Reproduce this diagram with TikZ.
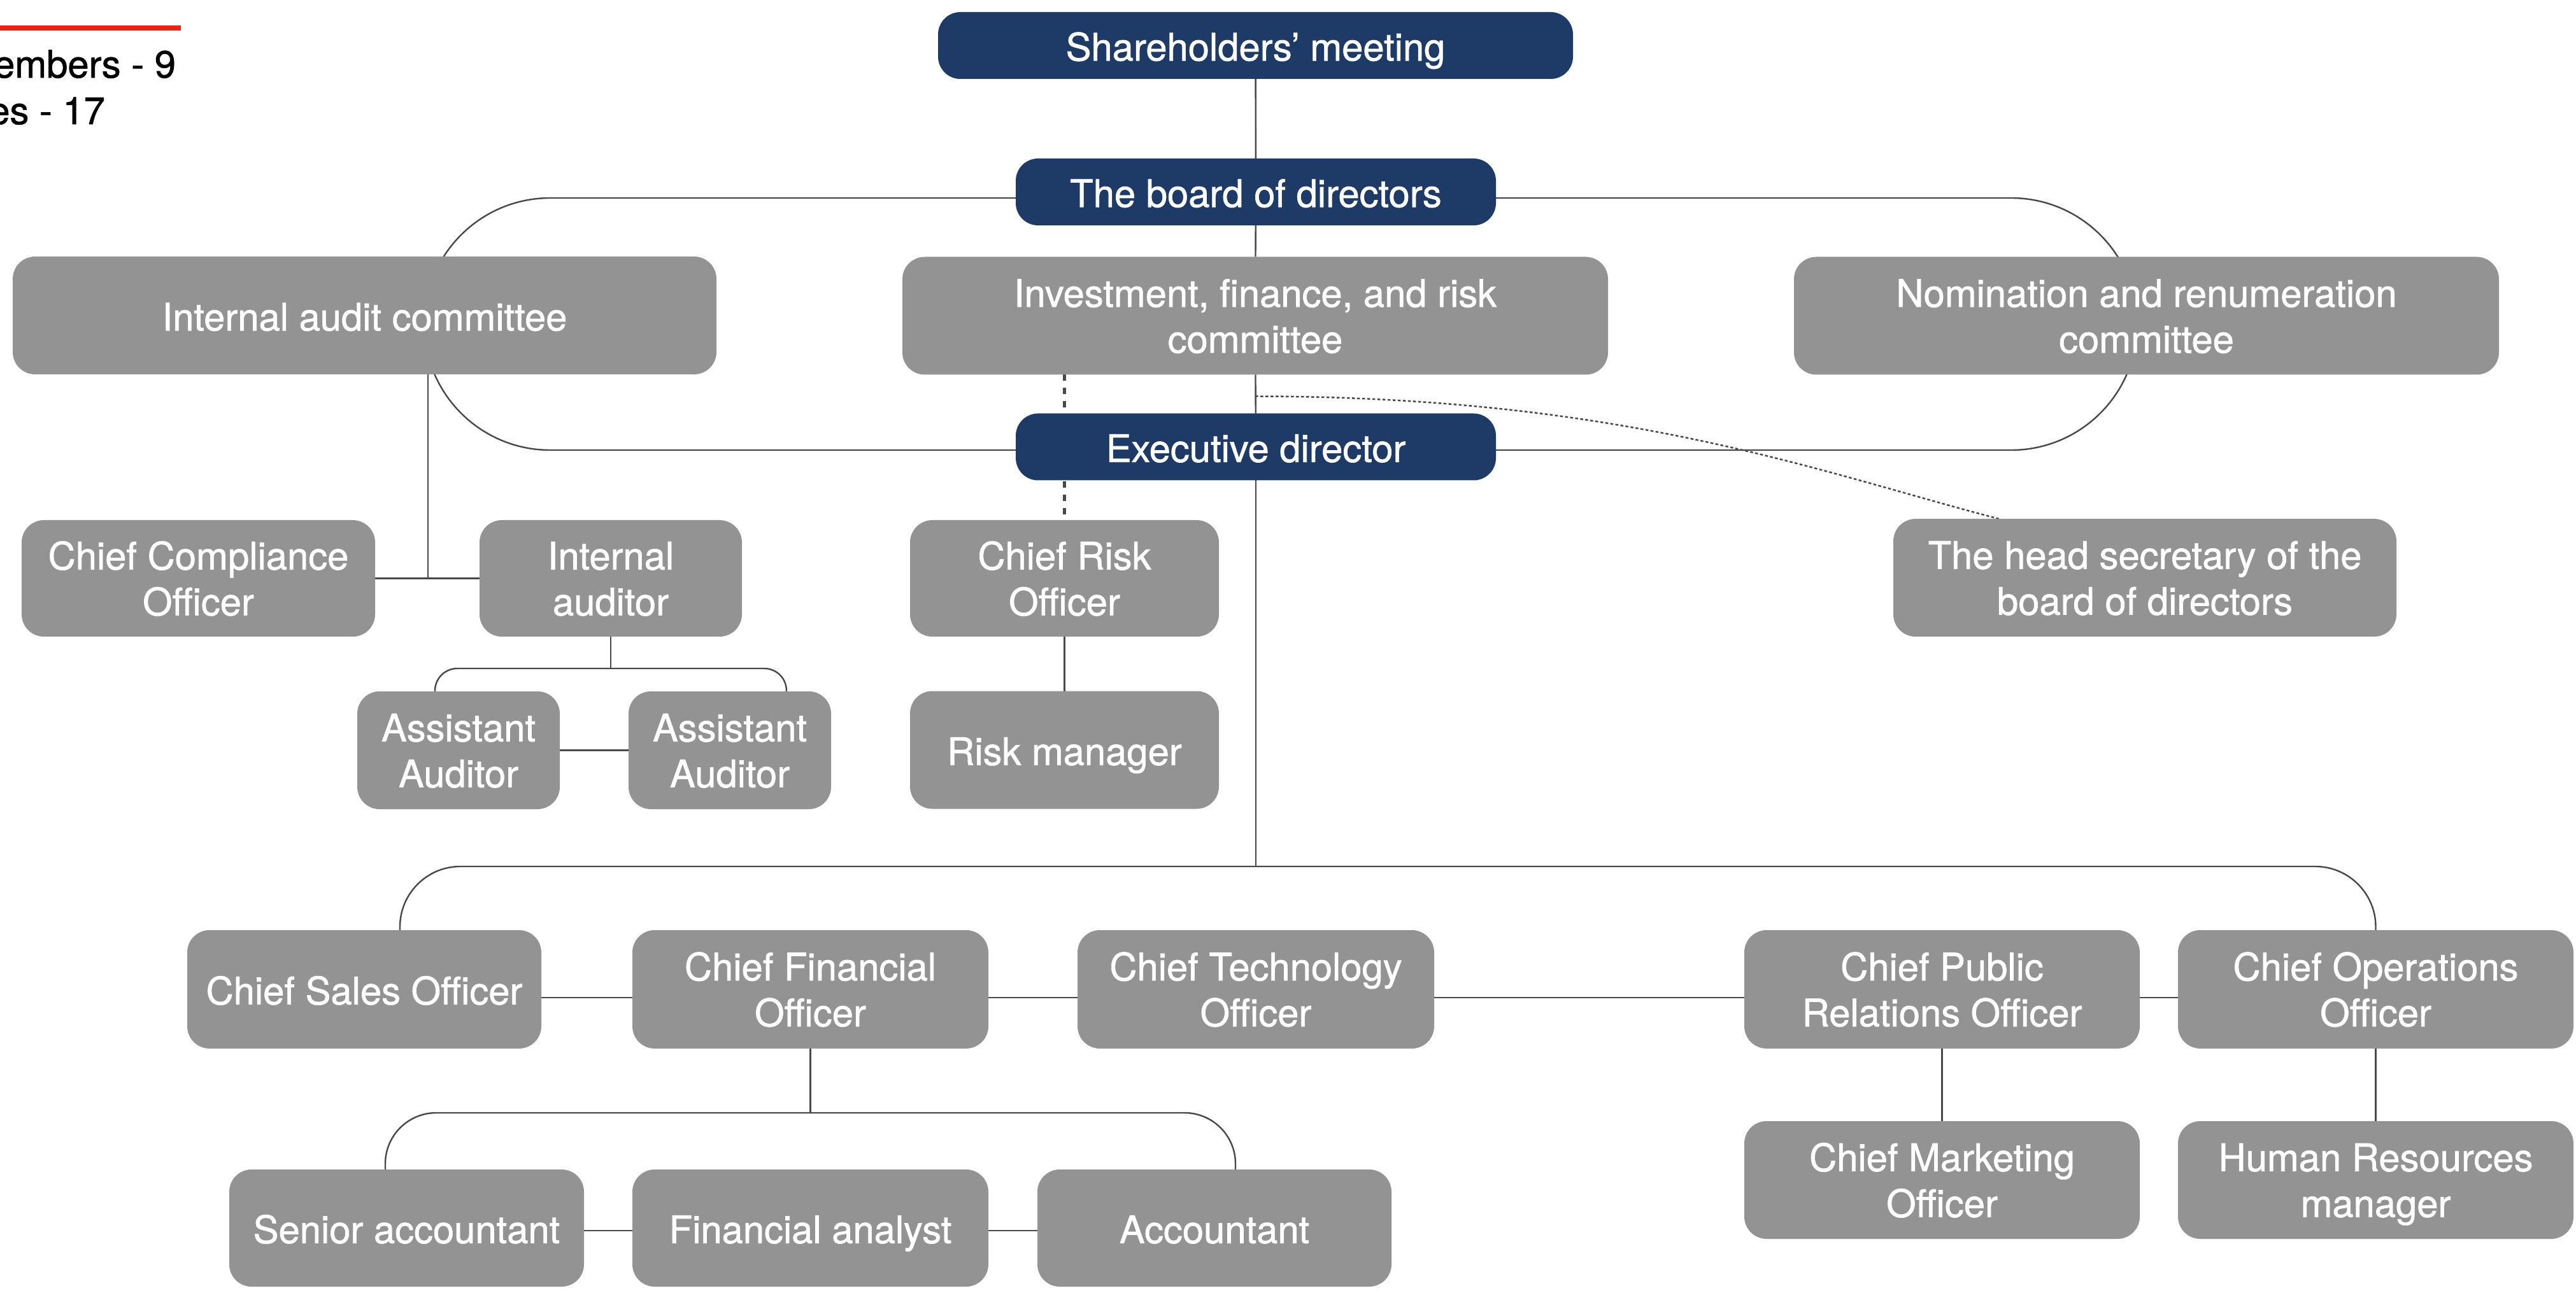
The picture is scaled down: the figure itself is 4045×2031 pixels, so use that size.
\documentclass[tikz,border=0pt]{standalone}
\usepackage{fontspec}
\setmainfont{TeX Gyre Heros}
\newfontfamily\unitfont[FakeBold=1.1]{TeX Gyre Heros}
\newcommand\unitstrut{\rule[-4.5pt]{0pt}{22.5pt}}
\newcommand\pairstrut{\rule{0pt}{37.6pt}}
\usetikzlibrary{calc}
\pgfdeclarelayer{canvas}
\pgfdeclarelayer{bg}
\pgfsetlayers{canvas,bg,main}
\definecolor{navy}{RGB}{30,59,104}
\definecolor{boxgray}{RGB}{147,147,147}
\definecolor{linkgray}{RGB}{72,72,72}
\definecolor{accentred}{RGB}{238,32,16}

\begin{document}
\begin{tikzpicture}[x=0.1mm,y=-0.1mm,
  every node/.style={inner sep=0pt, outer sep=0pt},
  unit/.style={rounded corners=3.5mm, align=center, text=white,
    font=\unitfont\fontsize{17}{20.5}\selectfont,
    execute at begin node={\unitstrut}, execute at end node={\unitstrut}},
  pair/.style={execute at begin node={\pairstrut}},
  lead/.style={unit, fill=navy, minimum height=10.5mm},
  dept/.style={unit, fill=boxgray, minimum height=18.5mm},
  link/.style={draw=linkgray, line width=0.24mm},
  advisory/.style={draw=linkgray, line width=0.5mm, dash pattern=on 1mm off 1.1mm},
  secretary/.style={draw=linkgray, line width=0.25mm, dash pattern=on 0.45mm off 0.35mm},
  note/.style={anchor=base east, text=black, font=\unitfont\fontsize{17}{20.5}\selectfont}
]
% canvas
\begin{pgfonlayer}{canvas}
  \fill[white] (0,0) rectangle (4045,2031);
\end{pgfonlayer}
\useasboundingbox (0,0) rectangle (4045,2031);

% header note
\fill[accentred] (0,40) rectangle (284,48);
\node[note] (members) at (276,122) {embers - 9};
\node[note] (staff) at (165,195) {es - 17};

% governance
\node[lead, minimum width=99.7mm] (share) at (1971.5,71.5) {Shareholders’ meeting};
\node[lead, minimum width=75.4mm] (board) at (1972,301.5) {The board of directors};
\node[lead, minimum width=75.4mm] (exec) at (1972,702) {Executive director};

% committees
\node[dept, minimum width=110.5mm] (audit) at (572.5,495.5) {Internal audit committee};
\node[dept, pair, minimum width=110.8mm] (invest) at (1971,496) {Investment, finance, and risk\\committee};
\node[dept, pair, minimum width=110.7mm] (nomin) at (3370.5,496) {Nomination and renumeration\\committee};

% second level
\node[dept, pair, minimum width=55.5mm, minimum height=18.3mm] (cco) at (311.5,908.5) {Chief Compliance\\Officer};
\node[dept, pair, minimum width=41.2mm, minimum height=18.3mm] (ia) at (959,908.5) {Internal\\auditor};
\node[dept, pair, minimum width=48.5mm, minimum height=18.3mm] (cro) at (1671.5,908.5) {Chief Risk\\Officer};
\node[dept, pair, minimum width=79mm, minimum height=18.5mm] (head) at (3368,907.5) {The head secretary of the\\board of directors};
\node[dept, pair, minimum width=31.8mm] (aa1) at (720,1178.5) {Assistant\\Auditor};
\node[dept, pair, minimum width=31.8mm] (aa2) at (1146,1178.5) {Assistant\\Auditor};
\node[dept, minimum width=48.5mm] (riskm) at (1671.5,1178) {Risk manager};

% operating officers
\node[dept, minimum width=55.6mm, minimum height=18.6mm] (cso) at (572,1554) {Chief Sales Officer};
\node[dept, pair, minimum width=55.9mm, minimum height=18.6mm] (cfo) at (1272.5,1554) {Chief Financial\\Officer};
\node[dept, pair, minimum width=56mm, minimum height=18.6mm] (cto) at (1972,1554) {Chief Technology\\Officer};
\node[dept, pair, minimum width=62.1mm, minimum height=18.6mm] (cpro) at (3049.5,1554) {Chief Public\\Relations Officer};
\node[dept, pair, minimum width=62.1mm, minimum height=18.6mm] (coo) at (3730.5,1554) {Chief Operations\\Officer};

% staff
\node[dept, minimum width=55.7mm, minimum height=18.4mm] (senior) at (638.5,1929) {Senior accountant};
\node[dept, minimum width=55.9mm, minimum height=18.4mm] (fa) at (1272.5,1929) {Financial analyst};
\node[dept, minimum width=55.6mm, minimum height=18.4mm] (acc) at (1907,1929) {Accountant};
\node[dept, pair, minimum width=62.1mm] (cmo) at (3049.5,1853.5) {Chief Marketing\\Officer};
\node[dept, pair, minimum width=62.1mm] (hr) at (3730.5,1853.5) {Human Resources\\manager};

\coordinate (auditjoin) at (672,908);
\coordinate (iajoin) at (959,1050);
\coordinate (opsjoin) at (1972,1361);
\coordinate (finjoin) at (1272.5,1748);

\begin{pgfonlayer}{bg}
  % main chain
  \draw[link] (share) -- (board);
  \draw[link] (board) -- (invest);
  \draw[link] (invest) -- (exec);
  % committee loops
  \draw[link] ([yshift=-0.95mm]board.west) -- (864,311)
    arc[start angle=270, end angle=90, radius=198] -- ([yshift=-0.5mm]exec.west);
  \draw[link] ([yshift=-0.95mm]board.east) -- (3158,311)
    arc[start angle=270, end angle=450, radius=198] -- ([yshift=-0.5mm]exec.east);
  % audit branch
  \draw[link] (audit.south -| auditjoin) -- (auditjoin);
  \draw[link] (cco) -- (ia);
  \draw[link] (ia) -- (iajoin);
  \draw[link, rounded corners=3.5mm] ([xshift=-3.7mm]aa1.north) |- (iajoin) -| ([xshift=8.9mm]aa2.north);
  \draw[link] (aa1) -- (aa2);
  % risk branch
  \draw[advisory] (invest.south -| cro.north) -- (cro.north);
  \draw[link] (cro) -- (riskm);
  % secretary
  \draw[secretary] ([yshift=-3.4mm]invest.south) .. controls (2550,623) and (2850,740) .. ([xshift=-22.9mm]head.north);
  % operations
  \draw[link] (exec) -- (opsjoin);
  \draw[link, rounded corners=9.5mm] ([xshift=5.6mm]cso.north) |- (opsjoin) -| (coo.north);
  \draw[link] ([yshift=-1.3mm]cso.east) -- ([yshift=-1.3mm]cfo.west);
  \draw[link] ([yshift=-1.3mm]cfo.east) -- ([yshift=-1.3mm]cto.west);
  \draw[link] ([yshift=-1.3mm]cto.east) -- ([yshift=-1.3mm]cpro.west);
  \draw[link] ([yshift=-1.3mm]cpro.east) -- ([yshift=-1.3mm]coo.west);
  \draw[link] (cpro) -- (cmo);
  \draw[link] (coo) -- (hr);
  % finance
  \draw[link] (cfo) -- (finjoin);
  \draw[link, rounded corners=8mm] ([xshift=-3.35mm]senior.north) |- (finjoin) -| ([xshift=3.3mm]acc.north);
  \draw[link] ([yshift=-0.4mm]senior.east) -- ([yshift=-0.4mm]fa.west);
  \draw[link] ([yshift=-0.4mm]fa.east) -- ([yshift=-0.4mm]acc.west);
\end{pgfonlayer}
\end{tikzpicture}
\end{document}
